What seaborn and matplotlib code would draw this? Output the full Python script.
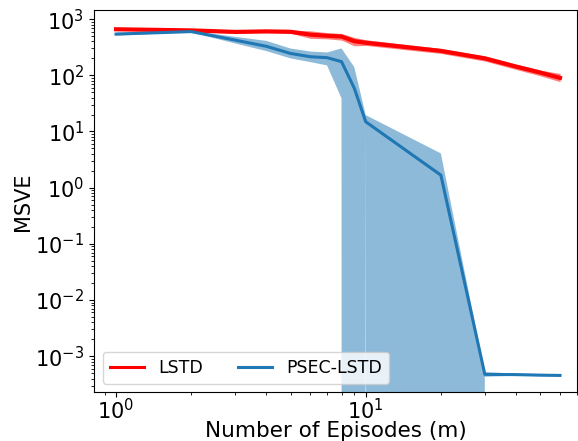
import numpy as np
import pandas as pd
import matplotlib
matplotlib.use("Agg")
import matplotlib.pyplot as plt
import seaborn as sns

# ---- data ----
episodes = [1, 2, 3, 4, 5, 6, 7, 8, 9, 10, 20, 30, 40, 50, 60]

lstd_mean = [660, 630, 592, 605, 595, 530, 505, 490, 405, 380, 272, 200, 143, 112, 90]
lstd_hi   = [690, 655, 625, 630, 640, 620, 575, 556, 472, 430, 300, 222, 158, 124, 108]
lstd_lo   = [630, 605, 560, 575, 560, 455, 445, 423, 335, 340, 245, 179, 127, 98, 77]

psec_mean = [541, 600, 423, 328, 245, 214, 206, 175, 59, 14.9, 1.67,
             4.75e-4, 4.7e-4, 4.6e-4, 4.55e-4]
psec_hi   = [575, 620, 484, 410, 300, 265, 255, 301, 140, 19.6, 4.07,
             5.2e-4, 4.9e-4, 4.8e-4, 4.75e-4]
psec_lo   = [510, 580, 369, 270, 200, 172, 150, 39, -1.0, 12.5, -1.0,
             4.3e-4, 4.5e-4, 4.4e-4, 4.35e-4]

x_ticks = [1, 10]
y_ticks = [1e-3, 1e-2, 1e-1, 1e0, 1e1, 1e2, 1e3]

labels = ["LSTD", "PSEC-LSTD"]
colors = ["#ff0000", "#1f77b4"]
widths = [3.0, 2.2]

df = pd.DataFrame({
    "m": episodes * 2,
    "MSVE": lstd_mean + psec_mean,
    "method": [labels[0]] * len(episodes) + [labels[1]] * len(episodes),
})

fig = plt.figure(figsize=(5.78, 4.41), dpi=100)
ax = fig.add_axes([0.1626, 0.110, 0.8357, 0.867])

# bands
ax.fill_between(episodes, psec_lo, psec_hi, color=colors[1], alpha=0.5,
                linewidth=0, zorder=1)
ax.fill_between(episodes, lstd_lo, lstd_hi, color=colors[0], alpha=0.5,
                linewidth=0, zorder=2)

sns.lineplot(data=df, x="m", y="MSVE", hue="method", hue_order=labels,
             palette=colors, ax=ax, linewidth=2.2, zorder=3)
for line, lw in zip(ax.get_lines(), widths):
    line.set_linewidth(lw)

ax.set_xscale("log")
ax.set_yscale("log")
ax.set_xticks(x_ticks)
ax.set_yticks(y_ticks)
ax.set_xlim(0.816, 70.2)
ax.set_ylim(2.26e-4, 1445)

ax.set_xlabel("Number of Episodes (m)", fontsize=15.5)
ax.xaxis.set_label_coords(0.5, -0.074)
ax.set_ylabel("MSVE", fontsize=15, labelpad=1.5)
ax.tick_params(axis="both", which="major", labelsize=15)
ax.tick_params(axis="x", which="major", pad=0.5)

handles, lbls = ax.get_legend_handles_labels()
for h in handles:
    h.set_linewidth(2.2)
ax.legend(handles, lbls, loc="lower left", ncol=2, fontsize=12.5,
          title=None)

fig.savefig("out.png", dpi=100)
